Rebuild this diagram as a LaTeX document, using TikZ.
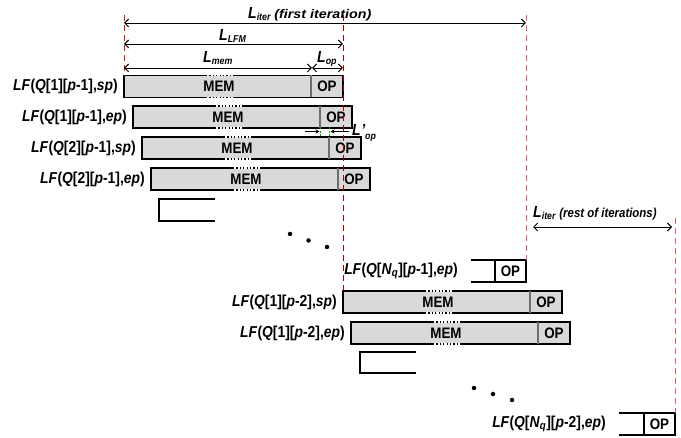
\documentclass[tikz,border=0pt]{standalone}
\usepackage{fontspec}
\setmainfont{Liberation Sans}[FakeStretch=0.88]
\usetikzlibrary{arrows.meta}
\definecolor{boxgray}{RGB}{217,217,217}
\definecolor{divgray}{RGB}{110,110,110}
\definecolor{redA}{RGB}{225,20,20}
\definecolor{redB}{RGB}{170,0,0}
\definecolor{redC}{RGB}{232,95,95}
\definecolor{grn}{RGB}{0,160,0}
\tikzset{
  lfbox/.style={draw=black, fill=boxgray, line width=1.2pt, minimum width=219pt,
    minimum height=22pt, inner sep=0pt, outer sep=0pt, anchor=north west},
  openbox/.style={minimum height=22pt, inner sep=0pt, outer sep=0pt, anchor=north west},
  divider/.style={draw=divgray, line width=1.1pt},
  boxtext/.style={font=\fontsize{15.2}{15.2}\selectfont\bfseries, inner sep=0pt},
  lflabel/.style={font=\fontsize{15.8}{15.8}\selectfont\bfseries, inner sep=0pt, anchor=east},
  guide/.style={dash pattern=on 6pt off 4pt, line width=1pt},
  dim/.style={{Straight Barb[length=4pt,width=8pt]}-{Straight Barb[length=4pt,width=8pt]}, line width=0.9pt},
  dimlabel/.style={font=\bfseries\itshape, inner sep=0pt, anchor=base west},
  edge3/.style={line width=1.2pt},
  dot/.style={circle, fill=black, inner sep=0pt, minimum size=4.5pt},
}
\newcommand\Lbig{\fontsize{16}{16}\selectfont L}
\newcommand\Lsub[1]{\raisebox{-1.5pt}{\fontsize{10}{10}\selectfont #1}}
\newcommand\lfrow[4]{%
  \node[lfbox] (#1) at (#2,#3) {};
  \draw[divider] ([xshift=-32pt]#1.north east) -- ([xshift=-32pt]#1.south east);
  \node[boxtext] (#1op) at ([xshift=-16pt]#1.east) {OP};
  \node[boxtext] (#1mem) at ([xshift=95pt]#1.west) {MEM};
  \draw[white, line width=1.8pt] ([xshift=82pt]#1.north west) -- ([xshift=109pt]#1.north west);
  \draw[white, line width=1.8pt] ([xshift=82pt]#1.south west) -- ([xshift=109pt]#1.south west);
  \draw[line width=1.1pt, dash pattern=on 1.2pt off 2.2pt] ([xshift=82pt]#1.north west) -- ([xshift=109pt]#1.north west);
  \draw[line width=1.1pt, dash pattern=on 1.2pt off 2.2pt] ([xshift=82pt]#1.south west) -- ([xshift=109pt]#1.south west);
  \node[lflabel] (#1lab) at ([xshift=-6pt]#1.west) {#4};
}
\newcommand\nqrow[5]{% name, x, y, width, label
  \node[openbox, minimum width=#4pt] (#1) at (#2,#3) {};
  \draw[edge3] (#1.north west) -- (#1.north east) -- (#1.south east) -- (#1.south west);
  \draw[edge3] ([xshift=-31pt]#1.north east) -- ([xshift=-31pt]#1.south east);
  \node[boxtext] (#1op) at ([xshift=-15.5pt]#1.east) {OP};
  \node[lflabel] (#1lab) at ([xshift=-13pt]#1.west) {#5};
}
\begin{document}
\begin{tikzpicture}[x=1pt,y=-1pt]
\useasboundingbox (0,0) rectangle (681,438);

% rows
\lfrow{r1}{124}{75.5}{\textit{LF}(\textit{Q}[1][\textit{p}-1],\textit{sp})}
\lfrow{r2}{133}{106}{\textit{LF}(\textit{Q}[1][\textit{p}-1],\textit{ep})}
\lfrow{r3}{142}{137}{\textit{LF}(\textit{Q}[2][\textit{p}-1],\textit{sp})}
\lfrow{r4}{151}{168}{\textit{LF}(\textit{Q}[2][\textit{p}-1],\textit{ep})}
\lfrow{s1}{343}{291}{\textit{LF}(\textit{Q}[1][\textit{p}-2],\textit{sp})}
\lfrow{s2}{351}{322}{\textit{LF}(\textit{Q}[1][\textit{p}-2],\textit{ep})}
\nqrow{n1}{471}{260}{55}{\textit{LF}(\textit{Q}[\textit{N}\textsubscript{\textit{q}}][\textit{p}-1],\textit{ep})}
\nqrow{n2}{619}{413}{56}{\textit{LF}(\textit{Q}[\textit{N}\textsubscript{\textit{q}}][\textit{p}-2],\textit{ep})}

% open rectangles
\node[openbox, minimum width=56pt] (o1) at (159,199) {};
\draw[edge3] (o1.north east) -- (o1.north west) -- (o1.south west) -- (o1.south east);
\node[openbox, minimum width=56pt, minimum height=21pt] (o2) at (360,352) {};
\draw[edge3] (o2.north east) -- (o2.north west) -- (o2.south west) -- (o2.south east);

% dots
\node[dot] (da1) at (290,234) {};
\node[dot] (da2) at (308.5,240.5) {};
\node[dot] (da3) at (327,247) {};
\node[dot] (db1) at (474,388) {};
\node[dot] (db2) at (493,394) {};
\node[dot] (db3) at (512,400) {};

% guide lines
\coordinate (gA) at (124,15);
\coordinate (gB) at (343,15);
\coordinate (gC) at (526,15);
\coordinate (gD) at (675,218);
\draw[guide, redA] (gA) -- (r1.north west);
\draw[guide, redB] (gB) -- (s1.north west);
\draw[guide, redC] (gC) -- (n1.north east);
\draw[guide, redC] (gD) -- (n2.north east);

% dimension arrows
\coordinate (a1l) at (124,23);  \coordinate (a1r) at (526,23);
\coordinate (a2l) at (124,44);  \coordinate (a2r) at (343,44);
\coordinate (a3l) at (124,68);  \coordinate (a3m) at (312,68); \coordinate (a3r) at (343,68);
\coordinate (a4l) at (533,227); \coordinate (a4r) at (672,227);
\draw[dim] (a1l) -- (a1r);
\draw[dim] (a2l) -- (a2r);
\draw[dim] (a3l) -- (a3m);
\draw[dim] (a3m) -- (a3r);
\draw[dim] (a4l) -- (a4r);

\node[dimlabel] (t1) at (248,19) {\Lbig\Lsub{iter} \scalebox{1.3}[1]{\fontsize{12.5}{12.5}\selectfont(first iteration)}};
\node[dimlabel] (t2) at (219,41) {\Lbig\Lsub{LFM}};
\node[dimlabel] (t3) at (203,63) {\Lbig\Lsub{mem}};
\node[dimlabel] (t4) at (317,63) {\Lbig\Lsub{op}};
\node[dimlabel] (t5) at (533,218) {\Lbig\Lsub{iter} \fontsize{13}{13}\selectfont(rest of iterations)};
\node[dimlabel] (t6) at (352,136) {\Lbig\kern0.5pt'\raisebox{-4pt}{\fontsize{10}{10}\selectfont op}};

% L'op marker
\coordinate (g1t) at (320.5,127.5); \coordinate (g1b) at (320.5,136.5);
\coordinate (g2t) at (329.5,127.5); \coordinate (g2b) at (329.5,136.5);
\draw[grn, line width=0.9pt, dash pattern=on 2pt off 1.5pt] (g1t) -- (g1b);
\draw[grn, line width=0.9pt, dash pattern=on 2pt off 1.5pt] (g2t) -- (g2b);
\coordinate (p1) at (305,131.5); \coordinate (p2) at (319.5,131.5);
\coordinate (p3) at (349,131.5); \coordinate (p4) at (330.5,131.5);
\draw[-{Stealth[length=4pt,width=4pt]}, line width=0.8pt] (p1) -- (p2);
\draw[-{Stealth[length=4pt,width=4pt]}, line width=0.8pt] (p3) -- (p4);
\end{tikzpicture}
\end{document}
